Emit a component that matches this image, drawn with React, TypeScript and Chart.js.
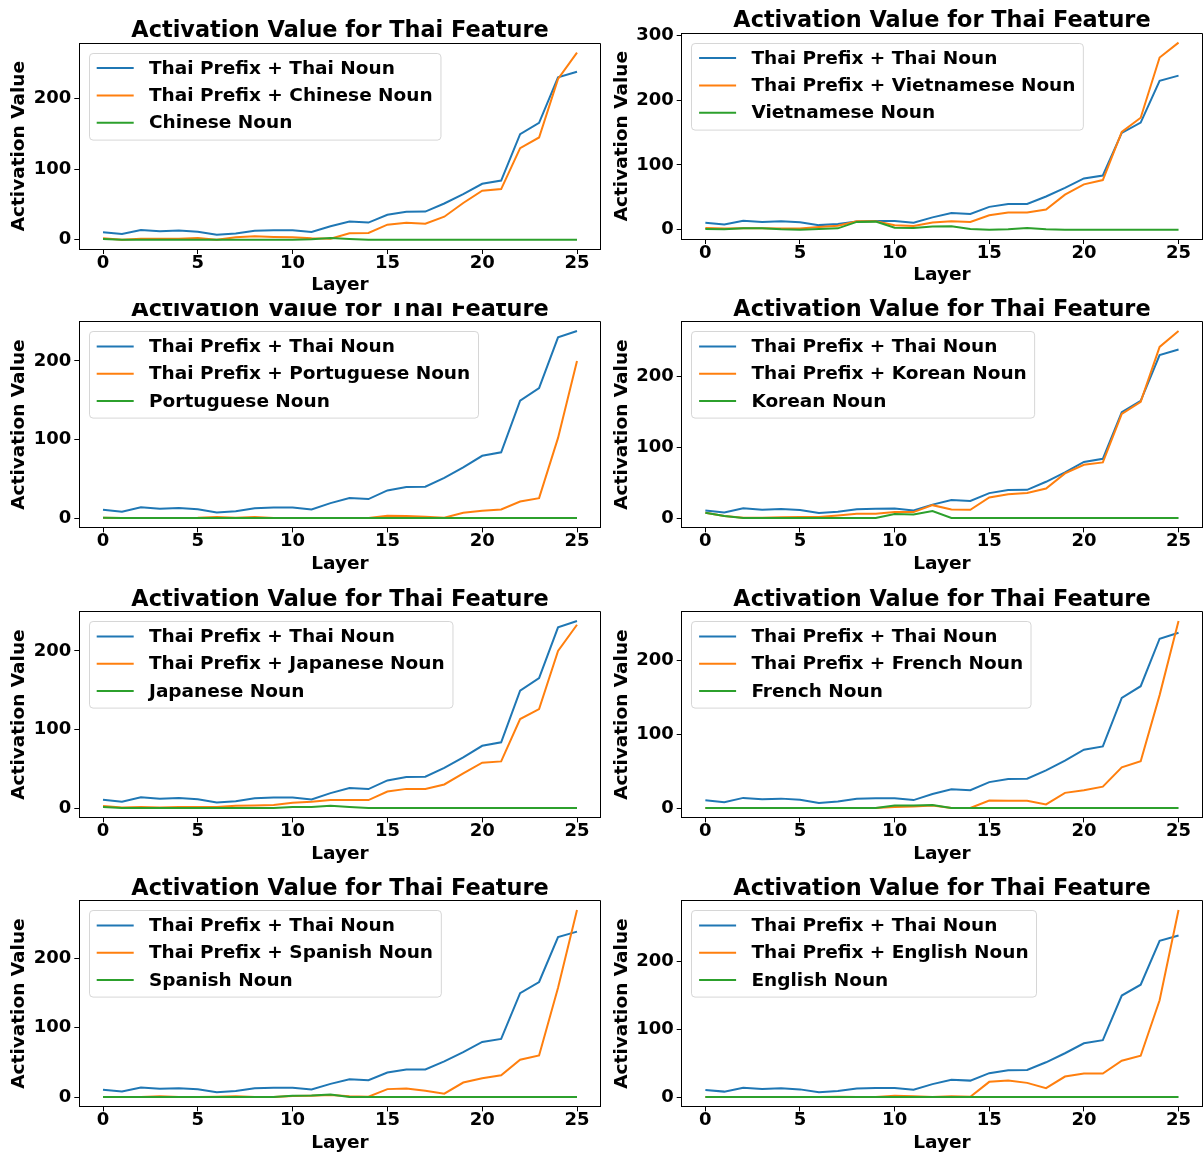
import { useEffect, useRef } from "react";
import { Chart, registerables } from "chart.js";

Chart.register(...registerables);

// ---- data -------------------------------------------------------------
const layers = [0, 1, 2, 3, 4, 5, 6, 7, 8, 9, 10, 11, 12, 13, 14, 15, 16, 17, 18, 19, 20, 21, 22, 23, 24, 25];

const thaiPrefixThaiNoun = [10.5, 8, 13.8, 11.8, 12.8, 11.3, 7, 8.8, 12.5, 13.3, 13.4, 10.8, 19, 25.6, 24.2, 35.2, 39.6, 39.8, 51.2, 64.5, 79.2, 83.7, 149.5, 165.5, 230, 238];

const thaiPrefixChineseNoun = [2, 0, 1.4, 1.4, 1.4, 2.4, 0, 3.3, 4.7, 3.8, 3.3, 1.9, 1.4, 9, 9.4, 21.2, 24, 22.6, 32.5, 52, 69.3, 71.7, 129.7, 144.8, 227.8, 265];
const chineseNoun = [1, 0, 0, 0, 0, 0, 0, 0, 0, 0, 0, 0.5, 2.5, 1, 0, 0, 0, 0, 0, 0, 0, 0, 0, 0, 0, 0];

const thaiPrefixVietnameseNoun = [2.6, 1.6, 2, 2, 1.6, 1.6, 4, 6.2, 13, 13, 6.7, 5.7, 10.9, 13, 12, 22.3, 26.4, 26.4, 31, 54, 70, 76.7, 151, 173, 266, 289];
const vietnameseNoun = [1, 0.5, 2, 2, 0.5, 0, 1, 2, 12, 12.4, 3, 2.6, 4.7, 5.2, 1, 0, 0.5, 2.6, 0.5, 0, 0, 0, 0, 0, 0, 0];

const thaiPrefixPortugueseNoun = [0.4, 0, 0.2, 0.2, 0.2, 0.3, 1.3, 0.5, 1.3, 0.2, 0, 0, 0, 0, 0.2, 3, 2.5, 1.7, 0.4, 6.7, 9.3, 11, 21, 25.3, 102, 200];
const portugueseNoun = [0.5, 0, 0, 0, 0, 0, 0, 0, 0, 0, 0, 0, 0, 0, 0, 0, 0, 0, 0, 0, 0, 0, 0, 0, 0, 0];

const thaiPrefixKoreanNoun = [7.5, 2.8, 0.5, 0.5, 1, 1.4, 1.4, 3.7, 6, 6, 8.4, 8.4, 18.2, 12, 11.7, 29, 33.6, 35.5, 41.6, 63, 75.2, 78.5, 147, 164, 241.6, 264];
const koreanNoun = [7.5, 2.8, 0, 0, 0, 0, 0, 0, 0, 0, 5.6, 5.1, 9.8, 0, 0, 0, 0, 0, 0, 0, 0, 0, 0, 0, 0, 0];

const thaiPrefixJapaneseNoun = [2.5, 0.8, 1.3, 0.8, 1.3, 1.3, 1.3, 3, 3.4, 3.8, 6.7, 8, 10.1, 10.1, 10.1, 21, 24.4, 24.4, 30, 44.2, 57.7, 59.4, 113.3, 126, 200, 233.3];
const japaneseNoun = [1.3, 0, 0, 0, 0, 0, 0, 0, 0, 0, 1.3, 1.3, 3, 1.3, 0, 0, 0, 0, 0, 0, 0, 0, 0, 0, 0, 0];

const thaiPrefixFrenchNoun = [0, 0, 0, 0, 0, 0, 0, 0, 0, 0, 1.3, 2.2, 3.6, 0, 0, 10.3, 9.9, 9.9, 4.9, 20.6, 24.2, 29.1, 55.2, 63.7, 153.4, 254];
const frenchNoun = [0, 0, 0, 0, 0, 0, 0, 0, 0, 0, 3.6, 3.6, 4, 0, 0, 0, 0, 0, 0, 0, 0, 0, 0, 0, 0, 0];

const thaiPrefixSpanishNoun = [0, 0, 0, 1, 0, 0, 0.5, 1, 0, 0, 1.4, 1.9, 2.9, 1, 0.5, 11.4, 12.4, 9, 4.8, 20.9, 27.1, 31.4, 53.7, 59.9, 157.2, 269];
const spanishNoun = [0, 0, 0, 0, 0, 0, 0, 0, 0, 0, 1.9, 2.4, 3.8, 0, 0, 0, 0, 0, 0, 0, 0, 0, 0, 0, 0, 0];

const thaiPrefixEnglishNoun = [0, 0, 0, 0, 0, 0, 0, 0.5, 0, 0, 1.9, 1, 0, 1, 0.5, 22.4, 24.3, 20.9, 13.1, 30.2, 34.5, 34.5, 53.5, 60.8, 142.6, 275.4];
const englishNoun = [0, 0, 0, 0, 0, 0, 0, 0, 0, 0, 0, 0, 0, 0, 0, 0, 0, 0, 0, 0, 0, 0, 0, 0, 0, 0];

const languages = ["Chinese", "Vietnamese", "Portuguese", "Korean", "Japanese", "French", "Spanish", "English"];
const prefixedSeries = [thaiPrefixChineseNoun, thaiPrefixVietnameseNoun, thaiPrefixPortugueseNoun, thaiPrefixKoreanNoun, thaiPrefixJapaneseNoun, thaiPrefixFrenchNoun, thaiPrefixSpanishNoun, thaiPrefixEnglishNoun];
const nounSeries = [chineseNoun, vietnameseNoun, portugueseNoun, koreanNoun, japaneseNoun, frenchNoun, spanishNoun, englishNoun];

const xTickValues = [0, 5, 10, 15, 20, 25];
const yTickValues = [0, 100, 200, 300];

const chartTitle = "Activation Value for Thai Feature";
const xAxisTitle = "Layer";
const yAxisTitle = "Activation Value";

// ---- styling / layout ---------------------------------------------------
const FONT = "'DejaVu Sans', 'Liberation Sans', sans-serif";
const COLORS = ["#1f77b4", "#ff7f0e", "#2ca02c"];
const LABEL_SIZE = 18.5;

type Frame = {
  left: number; top: number; width: number; height: number;
  plotLeft: number; plotRight: number; plotTop: number; plotBottom: number;
  xLabelY: number; yLabelX: number;
};

const leftCol = { left: 0, width: 602, plotLeft: 79.3, plotRight: 600.7, yLabelX: 19.3 };
const rightCol = { left: 602, width: 601, plotLeft: 681.7, plotRight: 1202.2, yLabelX: 622 };
const PLOT_H = 205.7;

const frames: Frame[] = [
  { ...leftCol, top: 0, height: 303, plotTop: 43.3, plotBottom: 43.3 + PLOT_H, xLabelY: 284.8 },
  { ...rightCol, top: 0, height: 303, plotTop: 33.3, plotBottom: 33.3 + PLOT_H, xLabelY: 275 },
  { ...leftCol, top: 303, height: 279, plotTop: 321.7, plotBottom: 321.7 + PLOT_H, xLabelY: 564 },
  { ...rightCol, top: 292, height: 290, plotTop: 321.7, plotBottom: 321.7 + PLOT_H, xLabelY: 564 },
  { ...leftCol, top: 582, height: 290, plotTop: 611.7, plotBottom: 611.7 + PLOT_H, xLabelY: 854 },
  { ...rightCol, top: 582, height: 290, plotTop: 611.7, plotBottom: 611.7 + PLOT_H, xLabelY: 854 },
  { ...leftCol, top: 872, height: 283, plotTop: 900.7, plotBottom: 900.7 + PLOT_H, xLabelY: 1143 },
  { ...rightCol, top: 872, height: 283, plotTop: 900.7, plotBottom: 900.7 + PLOT_H, xLabelY: 1143 },
];

// Draws the title above the axes, the top/right spines and an in-axes legend box.
const panelDecor = {
  id: "panelDecor",
  afterDraw(chart: any, _args: any, opts: any) {
    const { ctx, chartArea: a } = chart;
    ctx.save();

    // spines (top + right; left/bottom come from the scale borders)
    ctx.strokeStyle = "#000";
    ctx.lineWidth = 1;
    const x0 = Math.round(a.left - 0.5) + 0.5;
    const x1 = Math.round(a.right - 0.5) + 0.5;
    const y0 = Math.round(a.top - 0.5) + 0.5;
    const y1 = Math.round(a.bottom - 0.5) + 0.5;
    ctx.beginPath();
    ctx.moveTo(x0, y0);
    ctx.lineTo(x1, y0);
    ctx.lineTo(x1, y1);
    ctx.stroke();

    // title
    ctx.fillStyle = "#000";
    ctx.font = `bold 22.4px ${FONT}`;
    ctx.textAlign = "center";
    ctx.textBaseline = "alphabetic";
    ctx.fillText(opts.title, (a.left + a.right) / 2, a.top - 6);

    // legend
    ctx.font = `bold ${LABEL_SIZE}px ${FONT}`;
    const items = chart.data.datasets.map((d: any) => ({ label: d.label, color: d.borderColor }));
    const textW = Math.max(...items.map((it: any) => ctx.measureText(it.label).width));
    const bx = a.left + 9.4;
    const by = a.top + 9.4;
    const textX = bx + 60.3;
    const bw = textX + textW + 7.5 - bx;
    const bh = 86.6;
    ctx.beginPath();
    ctx.roundRect(Math.round(bx) + 0.5, Math.round(by) + 0.5, bw, bh, 3.6);
    ctx.fillStyle = "rgba(255,255,255,0.8)";
    ctx.fill();
    ctx.strokeStyle = "rgba(204,204,204,0.8)";
    ctx.lineWidth = 1;
    ctx.stroke();

    ctx.textAlign = "left";
    ctx.textBaseline = "middle";
    items.forEach((it: any, i: number) => {
      const cy = by + 15.4 + i * 27.3;
      ctx.strokeStyle = it.color;
      ctx.lineWidth = 2;
      ctx.beginPath();
      ctx.moveTo(bx + 8, cy);
      ctx.lineTo(bx + 45, cy);
      ctx.stroke();
      ctx.fillStyle = "#000";
      ctx.fillText(it.label, textX, cy + 0.6);
    });

    ctx.restore();
  },
};

function Panel({ index }: { index: number }) {
  const ref = useRef<HTMLCanvasElement>(null);
  const f = frames[index];

  useEffect(() => {
    const canvas = ref.current;
    if (!canvas) return;
    const lang = languages[index];
    const series = [
      { label: "Thai Prefix + Thai Noun", values: thaiPrefixThaiNoun },
      { label: `Thai Prefix + ${lang} Noun`, values: prefixedSeries[index] },
      { label: `${lang} Noun`, values: nounSeries[index] },
    ];
    const all = series.flatMap((s) => s.values);
    const lo = Math.min(...all);
    const hi = Math.max(...all);
    const pad = (hi - lo) * 0.05;
    const xPad = (layers[layers.length - 1] - layers[0]) * 0.05;

    const tickFont = { family: FONT, size: 18, weight: "bold" as const, lineHeight: 1 };
    const labelFont = { family: FONT, size: LABEL_SIZE, weight: "bold" as const, lineHeight: 1.2 };
    const halfLabel = (LABEL_SIZE * 1.2) / 2;

    const chart = new Chart(canvas, {
      type: "line",
      data: {
        datasets: series.map((s, i) => ({
          label: s.label,
          data: s.values.map((v, j) => ({ x: layers[j], y: v })),
          borderColor: COLORS[i],
          backgroundColor: COLORS[i],
          borderWidth: 2,
          pointRadius: 0,
          tension: 0,
          fill: false,
          order: 3 - i,
        })),
      },
      options: {
        responsive: false,
        animation: false,
        events: [],
        layout: {
          padding: {
            left: 0,
            top: f.plotTop - f.top,
            right: f.left + f.width - f.plotRight,
            bottom: 0,
          },
        },
        plugins: {
          legend: { display: false },
          tooltip: { enabled: false },
          title: { display: false },
          panelDecor: { title: chartTitle },
        } as any,
        scales: {
          x: {
            type: "linear",
            min: layers[0] - xPad,
            max: layers[layers.length - 1] + xPad,
            afterBuildTicks: (scale: any) => {
              scale.ticks = xTickValues.map((v) => ({ value: v }));
            },
            afterFit: (scale: any) => {
              scale.height = f.top + f.height - f.plotBottom;
            },
            grid: { drawOnChartArea: false, drawTicks: true, tickLength: 5, color: "#000", lineWidth: 1 },
            border: { display: true, color: "#000", width: 1 },
            ticks: { color: "#000", font: tickFont, padding: 0, maxRotation: 0, autoSkip: false },
            title: {
              display: true,
              text: xAxisTitle,
              color: "#000",
              font: labelFont,
              padding: { top: 0, bottom: f.top + f.height - f.xLabelY - halfLabel },
            },
          },
          y: {
            type: "linear",
            min: lo - pad,
            max: hi + pad,
            afterBuildTicks: (scale: any) => {
              scale.ticks = yTickValues
                .filter((v) => v >= scale.min && v <= scale.max)
                .map((v) => ({ value: v }));
            },
            afterFit: (scale: any) => {
              scale.width = f.plotLeft - f.left;
            },
            grid: { drawOnChartArea: false, drawTicks: true, tickLength: 5, color: "#000", lineWidth: 1 },
            border: { display: true, color: "#000", width: 1 },
            ticks: { color: "#000", font: tickFont, padding: 3, autoSkip: false },
            title: {
              display: true,
              text: yAxisTitle,
              color: "#000",
              font: labelFont,
              padding: { top: f.yLabelX - f.left - halfLabel, bottom: 0 },
            },
          },
        },
      },
      plugins: [panelDecor],
    });

    return () => chart.destroy();
  }, [index]);

  return (
    <canvas
      ref={ref}
      width={f.width}
      height={f.height}
      style={{ position: "absolute", left: f.left, top: f.top, width: f.width, height: f.height }}
    />
  );
}

export default function App() {
  return (
    <div
      style={{
        position: "absolute",
        left: 0,
        top: 0,
        width: 1203,
        height: 1155,
        background: "#fff",
        overflow: "hidden",
      }}
    >
      {languages.map((_, i) => (
        <Panel key={i} index={i} />
      ))}
    </div>
  );
}
